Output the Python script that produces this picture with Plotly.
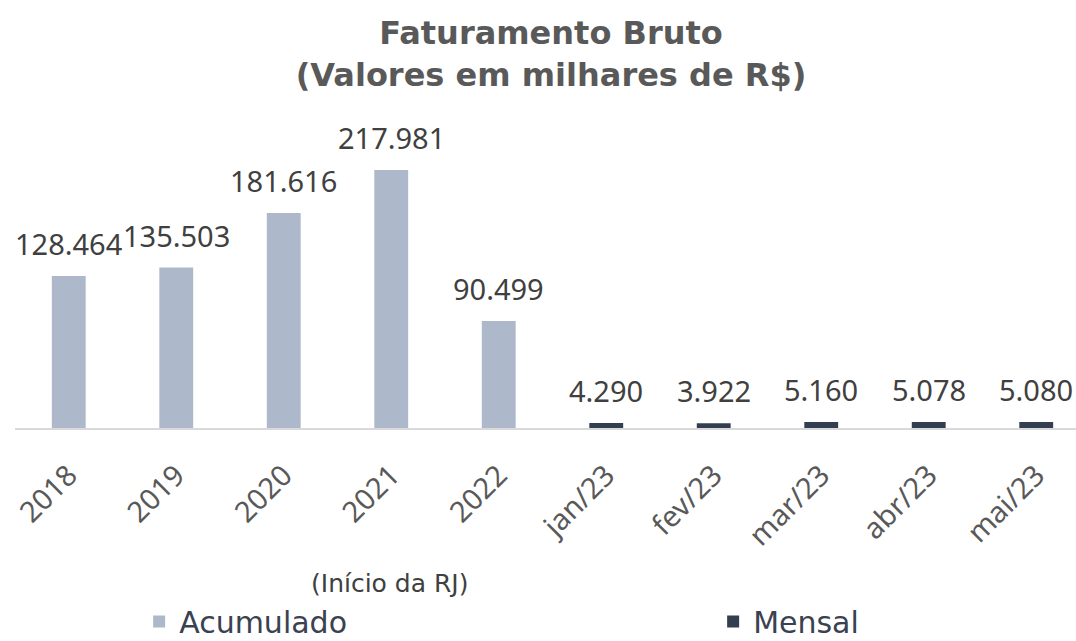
import plotly.graph_objects as go

categories = ["2018", "2019", "2020", "2021", "2022", "jan/23", "fev/23", "mar/23", "abr/23", "mai/23"]
acum_cats = categories[:5]
acum_vals = [128464, 135503, 181616, 217981, 90499]
mens_cats = categories[5:]
mens_vals = [4290, 3922, 5160, 5078, 5080]

C_ACUM = "#ADB9CA"
C_MENS = "#333F50"
FONT = "Noto Sans"
WIDE = "DejaVu Sans"

fig = go.Figure()
fig.add_trace(go.Bar(name="Acumulado", x=acum_cats, y=acum_vals, marker_color=C_ACUM,
                     width=0.315, marker_line_width=0, legend="legend"))
fig.add_trace(go.Bar(name="Mensal", x=mens_cats, y=mens_vals, marker_color=C_MENS,
                     width=0.315, marker_line_width=0, legend="legend2"))

annotations = []
for c, v in list(zip(acum_cats, acum_vals)) + list(zip(mens_cats, mens_vals)):
    annotations.append(dict(x=categories.index(c), y=v, xref="x", yref="y",
                            text=f"{v:,}".replace(",", "."),
                            showarrow=False, yanchor="bottom", yshift=11,
                            font=dict(family=FONT, size=29, color="#404040")))
annotations.append(dict(x=2.98, y=-0.473, xref="x", yref="paper", text="(Início da RJ)",
                        showarrow=False, yanchor="middle", xanchor="center",
                        font=dict(family=WIDE, size=25, color="#404040")))

legend_common = dict(orientation="h", xanchor="left", yanchor="middle", y=-0.59,
                     font=dict(family=WIDE, size=30, color="#3A4150"),
                     bgcolor="rgba(0,0,0,0)")

fig.update_layout(
    width=1076, height=641,
    margin=dict(l=15, r=0, t=100, b=213, autoexpand=False),
    paper_bgcolor="white", plot_bgcolor="white",
    separators=",.",
    title=dict(text="<b>Faturamento Bruto</b><br><b>(Valores em milhares de R$)</b>",
               x=551 / 1076, xanchor="center", y=1 - 44 / 641, yanchor="top", yref="container",
               font=dict(family=WIDE, size=32, color="#595959")),
    barmode="overlay",
    showlegend=True,
    legend=dict(x=0.117, **legend_common),
    legend2=dict(x=0.658, **legend_common),
    xaxis=dict(type="category", categoryorder="array", categoryarray=categories,
               range=[-0.5, 9.37], showline=True, linecolor="#D9D9D9", linewidth=1.5,
               showgrid=False, zeroline=False, ticks="", tickangle=-45,
               ticklabelstandoff=17, automargin=False,
               tickfont=dict(family=FONT, size=29, color="#595959")),
    yaxis=dict(range=[0, 277100], visible=False, showgrid=False, zeroline=False,
               automargin=False),
    annotations=annotations,
)

fig.write_html("out.html", config={"displayModeBar": False},
               post_script="document.body.style.margin='0';document.body.style.overflow='hidden';")
